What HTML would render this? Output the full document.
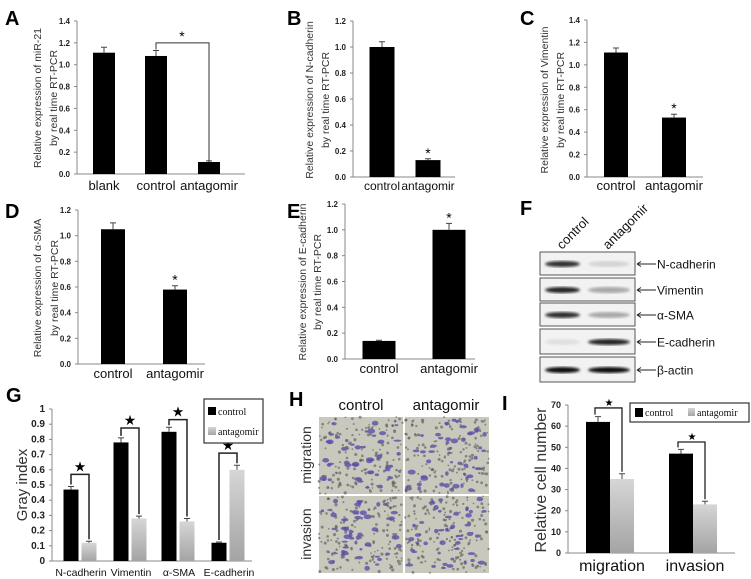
<!DOCTYPE html>
<html><head><meta charset="utf-8"><style>
html,body{margin:0;padding:0;background:#fff;}
svg{display:block;font-family:"Liberation Sans",sans-serif;}
.tk{font-size:8px;font-weight:bold;fill:#222;}
.lt{font-size:20px;font-weight:bold;fill:#000;}
</style></head><body>
<svg id="fig" width="751" height="579" viewBox="0 0 751 579" xmlns="http://www.w3.org/2000/svg">
<defs>
<linearGradient id="gr" x1="0" y1="0" x2="0" y2="1"><stop offset="0" stop-color="#d6d6d6"/><stop offset="1" stop-color="#a4a4a4"/></linearGradient>
<filter id="bl"><feGaussianBlur stdDeviation="1.2"/></filter>
</defs>
</svg>
<script>
// ---- data ----
const catsA = ["blank","control","antagomir"];
const valsA = [1.11,1.08,0.11];
const errA = [0.05,0.05,0.01];
const catsB = ["control","antagomir"];
const valsB = [1.0,0.13];
const errB = [0.04,0.01];
const catsC = ["control","antagomir"];
const valsC = [1.11,0.53];
const errC = [0.04,0.03];
const catsD = ["control","antagomir"];
const valsD = [1.05,0.58];
const errD = [0.05,0.03];
const catsE = ["control","antagomir"];
const valsE = [0.14,1.0];
const errE = [0.005,0.05];
const catsG = ["N-cadherin","Vimentin","α-SMA","E-cadherin"];
const ctrlG = [0.47,0.78,0.85,0.12];
const antG = [0.12,0.28,0.26,0.60];
const ctrlErrG = [0.02,0.03,0.03,0.005];
const antErrG = [0.01,0.015,0.02,0.03];
const brG = [0.57,0.875,0.93,0.71];
const ticksG = ["0","0.1","0.2","0.3","0.4","0.5","0.6","0.7","0.8","0.9","1"];
const catsI = ["migration","invasion"];
const ctrlI = [62,47];
const antI = [35,23];
const ctrlErrI = [2.5,2];
const antErrI = [2.5,1.5];
const brI = [68.6,52.5];
const ticksI = ["0","10","20","30","40","50","60","70"];

const NS="http://www.w3.org/2000/svg";
const svg=document.getElementById('fig');
function mk(tag,attrs,parent){const e=document.createElementNS(NS,tag);for(const k in attrs)e.setAttribute(k,attrs[k]);(parent||svg).appendChild(e);return e;}
function txt(s,attrs,parent){const e=mk('text',attrs,parent);e.textContent=s;return e;}

function letter(s,x,y){const t=txt(s,{x:x,y:y,class:'lt'});

}

function axes(g,c,ticks){
  const yS=v=>c.y0-(v/c.max)*(c.y0-c.top);
  const ax=mk('line',{x1:c.x0,y1:c.top,x2:c.x0,y2:c.y0,stroke:'#888','stroke-width':1},g);
  
  
  const bx=mk('line',{x1:c.x0,y1:c.y0,x2:c.xEnd,y2:c.y0,stroke:'#888','stroke-width':1},g);
  
  
  ticks.forEach((lab,i)=>{
    const v=i*c.step;const y=yS(v);
    const tl=mk('line',{x1:c.x0-3,y1:y,x2:c.x0,y2:y,stroke:'#888'},g);
    
    
    const t=txt(lab,{x:c.x0-7,y:y+3,'text-anchor':'end',class:'tk'},g);
    
    
    t.style.fontSize=(c.tk||8)+'px';
  });
  return yS;
}
function bar(g,x,w,v,e,yS,c,fill,name){
  const y=yS(v);
  const r=mk('rect',{x:x-w/2,y:y,width:w,height:c.y0-y,fill:fill},g);
  
  
  const ye=yS(v+e);
  const eb=mk('path',{d:`M${x} ${y}V${ye}M${x-3} ${ye}H${x+3}`,stroke:'#444','stroke-width':1,fill:'none'},g);
  
  
  return ye;
}
function ytitle(g,lines,xs,cy,fs){
  lines.forEach((s,i)=>{
    const t=txt(s,{x:0,y:0,'text-anchor':'middle',transform:`translate(${xs[i]},${cy}) rotate(-90)`,fill:'#333'},g);
    t.style.fontSize=fs+'px';
    
    
  });
}
function star(g,x,y,s,fs){const t=txt(s,{x:x,y:y,'text-anchor':'middle',fill:'#000'},g);t.style.fontSize=fs+'px';

}

function simple(c,cats,vals,errs,title,id){
  const g=mk('g',{});
  
  
  const ticks=[];for(let v=0;v<=c.max+1e-9;v+=c.step)ticks.push(v.toFixed(1));
  const yS=axes(g,c,ticks);
  const tops=[];
  cats.forEach((cat,i)=>{
    tops.push(bar(g,c.cx[i],c.w,vals[i],errs[i],yS,c,'#000','bar-'+cat));
    const t=txt(cat,{x:c.cx[i],y:c.ly,'text-anchor':'middle',fill:'#111'},g);
    t.style.fontSize=c.lf+'px';
    
    
  });
  ytitle(g,title,c.tx,c.ty,10.5);
  return {g,yS,tops};
}

// A
letter('A',5,25);
const a=simple({x0:77,top:21,y0:174,xEnd:245,max:1.4,step:0.2,cx:[104,156,209],w:22,ly:190,lf:13,tx:[41,57],ty:98},catsA,valsA,errA,["Relative expression of miR-21","by real time RT-PCR"],'a');
{const yb=a.yS(1.2);const br=mk('path',{d:`M${156} ${a.tops[1]-1}V${yb}H${209}V${a.yS(valsA[2])}`,stroke:'#333',fill:'none'},a.g);


star(a.g,182,yb-2,'*',14);}
// B
letter('B',287,25);
const b=simple({x0:353,top:21,y0:177,xEnd:455,max:1.2,step:0.2,cx:[382,428],w:25,ly:190,lf:12,tx:[313,329],ty:100},catsB,valsB,errB,["Relative expression of N-cadherin","by real time RT-PCR"],'b');
star(b.g,428,b.tops[1]-1,'*',14);
// C
letter('C',520,25);
const cc=simple({x0:587,top:20,y0:177,xEnd:703,max:1.4,step:0.2,cx:[616,674],w:24,ly:190,lf:13,tx:[548,564],ty:100},catsC,valsC,errC,["Relative expression of Vimentin","by real time RT-PCR"],'c');
star(cc.g,674,cc.tops[1]-1,'*',14);
// D
letter('D',5,218);
const d=simple({x0:78,top:210,y0:364,xEnd:205,max:1.2,step:0.2,cx:[113,175],w:24,ly:378,lf:13,tx:[41,58],ty:288},catsD,valsD,errD,["Relative expression of α-SMA","by real time RT-PCR"],'d');
star(d.g,175,d.tops[1]-1,'*',14);
// E
letter('E',287,218);
const e=simple({x0:345,top:204,y0:359,xEnd:475,max:1.2,step:0.2,cx:[379,449],w:33,ly:373,lf:13,tx:[306,321],ty:282},catsE,valsE,errE,["Relative expression of E-cadherin","by real time RT-PCR"],'e');
star(e.g,449,e.tops[1]-1,'*',14);

// F western blot
letter('F',520,215);
{
const g=mk('g',{});


const rows=[["N-cadherin",252,276,0.85,0.12],["Vimentin",278,302,0.9,0.35],["α-SMA",303,327,0.85,0.3],["E-cadherin",329,355,0.08,0.9],["β-actin",357,383,1,1]];
rows.forEach(r=>{
  const rc=mk('rect',{x:540,y:r[1],width:95,height:r[2]-r[1]-1,fill:'#f2f2f2',stroke:'#555','stroke-width':1},g);
  
  
  const cy=(r[1]+r[2])/2;
  [[545,580,r[3]],[588,630,r[4]]].forEach(bd=>{
    const be=mk('ellipse',{cx:(bd[0]+bd[1])/2,cy:cy,rx:(bd[1]-bd[0])/2,ry:3,fill:'#111','fill-opacity':bd[2],filter:'url(#bl)'},g);
    
    
  });
  const ar=mk('path',{d:`M637 ${cy}H656M637 ${cy}l4 -2.5M637 ${cy}l4 2.5`,stroke:'#222',fill:'none'},g);
  
  
  const t=txt(r[0],{x:657,y:cy+4.5,fill:'#111'},g);t.style.fontSize='12px';
  
  
});
const t1=txt('control',{x:0,y:0,transform:'translate(562,250) rotate(-45)',fill:'#111'},g);t1.style.fontSize='13px';


const t2=txt('antagomir',{x:0,y:0,transform:'translate(608,250) rotate(-45)',fill:'#111'},g);t2.style.fontSize='13px';


}

// G grouped
letter('G',6,402);
{
const c={x0:52,top:409,y0:561,xEnd:252,max:1,step:0.1,tk:10};
const g=mk('g',{});


const yS=axes(g,c,ticksG);
const gc=[80,130,178,228];
catsG.forEach((cat,i)=>{
  const x1=gc[i]-9,x2=gc[i]+9;
  const t1=bar(g,x1,15,ctrlG[i],ctrlErrG[i],yS,c,'#000','bar-control-'+cat);
  const t2=bar(g,x2,15,antG[i],antErrG[i],yS,c,'url(#gr)','bar-antagomir-'+cat);
  const yb=yS(brG[i]);
  const br=mk('path',{d:`M${x1} ${t1-2}V${yb}H${x2}V${t2-2}`,stroke:'#222','stroke-width':1.5,fill:'none'},g);
  
  
  star(g,gc[i],yb-3,'★',14);
  const t=txt(cat,{x:gc[i]+1,y:576,'text-anchor':'middle',fill:'#111'},g);t.style.fontSize='10.5px';
  
  
});
ytitle(g,["Gray index"],[27],485,15);
const lg=mk('g',{},g);


mk('rect',{x:204,y:399,width:59,height:44,fill:'#fff',stroke:'#333','stroke-width':1.2},lg);
mk('rect',{x:208,y:407,width:8,height:8,fill:'#000'},lg);
mk('rect',{x:208,y:427,width:8,height:8,fill:'url(#gr)'},lg);
const l1=txt('control',{x:218,y:415,'font-family':'Liberation Serif',fill:'#111'},lg);l1.style.fontSize='10px';


const l2=txt('antagomir',{x:218,y:435,'font-family':'Liberation Serif',fill:'#111'},lg);l2.style.fontSize='10px';


}

// H images
letter('H',289,406);
{
const g=mk('g',{});


const h1=txt('control',{x:361,y:410,'text-anchor':'middle',fill:'#111'},g);h1.style.fontSize='15px';


const h2=txt('antagomir',{x:446,y:410,'text-anchor':'middle',fill:'#111'},g);h2.style.fontSize='15px';


ytitle(g,["migration"],[311],455,14);
ytitle(g,["invasion"],[311],534,14);
let seed=7;const rnd=()=>{seed=(seed*16807)%2147483647;return seed/2147483647;};
[[319,417],[405,417],[319,496],[405,496]].forEach(p=>{
  const r=mk('rect',{x:p[0],y:p[1],width:84,height:77,fill:'#c9c8bd'},g);
  
  
  for(let k=0;k<160;k++){mk('circle',{cx:p[0]+rnd()*84,cy:p[1]+rnd()*77,r:0.8+rnd()*0.8,fill:'#555','fill-opacity':0.6},g);}
  for(let k=0;k<45;k++){mk('ellipse',{cx:p[0]+3+rnd()*78,cy:p[1]+3+rnd()*71,rx:1.5+rnd()*2.5,ry:1+rnd()*1.5,fill:'#5a4fa8','fill-opacity':0.8},g);}
});
}

// I
letter('I',502,410);
{
const c={x0:568,top:405,y0:553,xEnd:735,max:70,step:10,tk:9};
const g=mk('g',{});


const yS=axes(g,c,ticksI);
const gc=[610,693];
catsI.forEach((cat,i)=>{
  const x1=gc[i]-12,x2=gc[i]+12;
  const t1=bar(g,x1,24,ctrlI[i],ctrlErrI[i],yS,c,'#000','bar-control-'+cat);
  const t2=bar(g,x2,24,antI[i],antErrI[i],yS,c,'url(#gr)','bar-antagomir-'+cat);
  const yb=yS(brI[i]);
  const br=mk('path',{d:`M${x1-3} ${t1-2}V${yb}H${x2}V${t2-2}`,stroke:'#222','stroke-width':1.3,fill:'none'},g);
  
  
  star(g,(x1+x2)/2-1,yb-2,'★',10);
  const t=txt(cat,{x:gc[i]+2,y:571,'text-anchor':'middle',fill:'#111'},g);t.style.fontSize='16px';
  
  
});
ytitle(g,["Relative cell number"],[546],480,16);
const lg=mk('g',{},g);


mk('rect',{x:630,y:403,width:119,height:19,fill:'#fff',stroke:'#333','stroke-width':1.2},lg);
mk('rect',{x:635,y:408,width:8,height:9,fill:'#000'},lg);
mk('rect',{x:688,y:408,width:7,height:8,fill:'url(#gr)'},lg);
const l1=txt('control',{x:645,y:416,'font-family':'Liberation Serif',fill:'#111'},lg);l1.style.fontSize='10px';


const l2=txt('antagomir',{x:697,y:416,'font-family':'Liberation Serif',fill:'#111'},lg);l2.style.fontSize='10px';


}
</script>
</body></html>
